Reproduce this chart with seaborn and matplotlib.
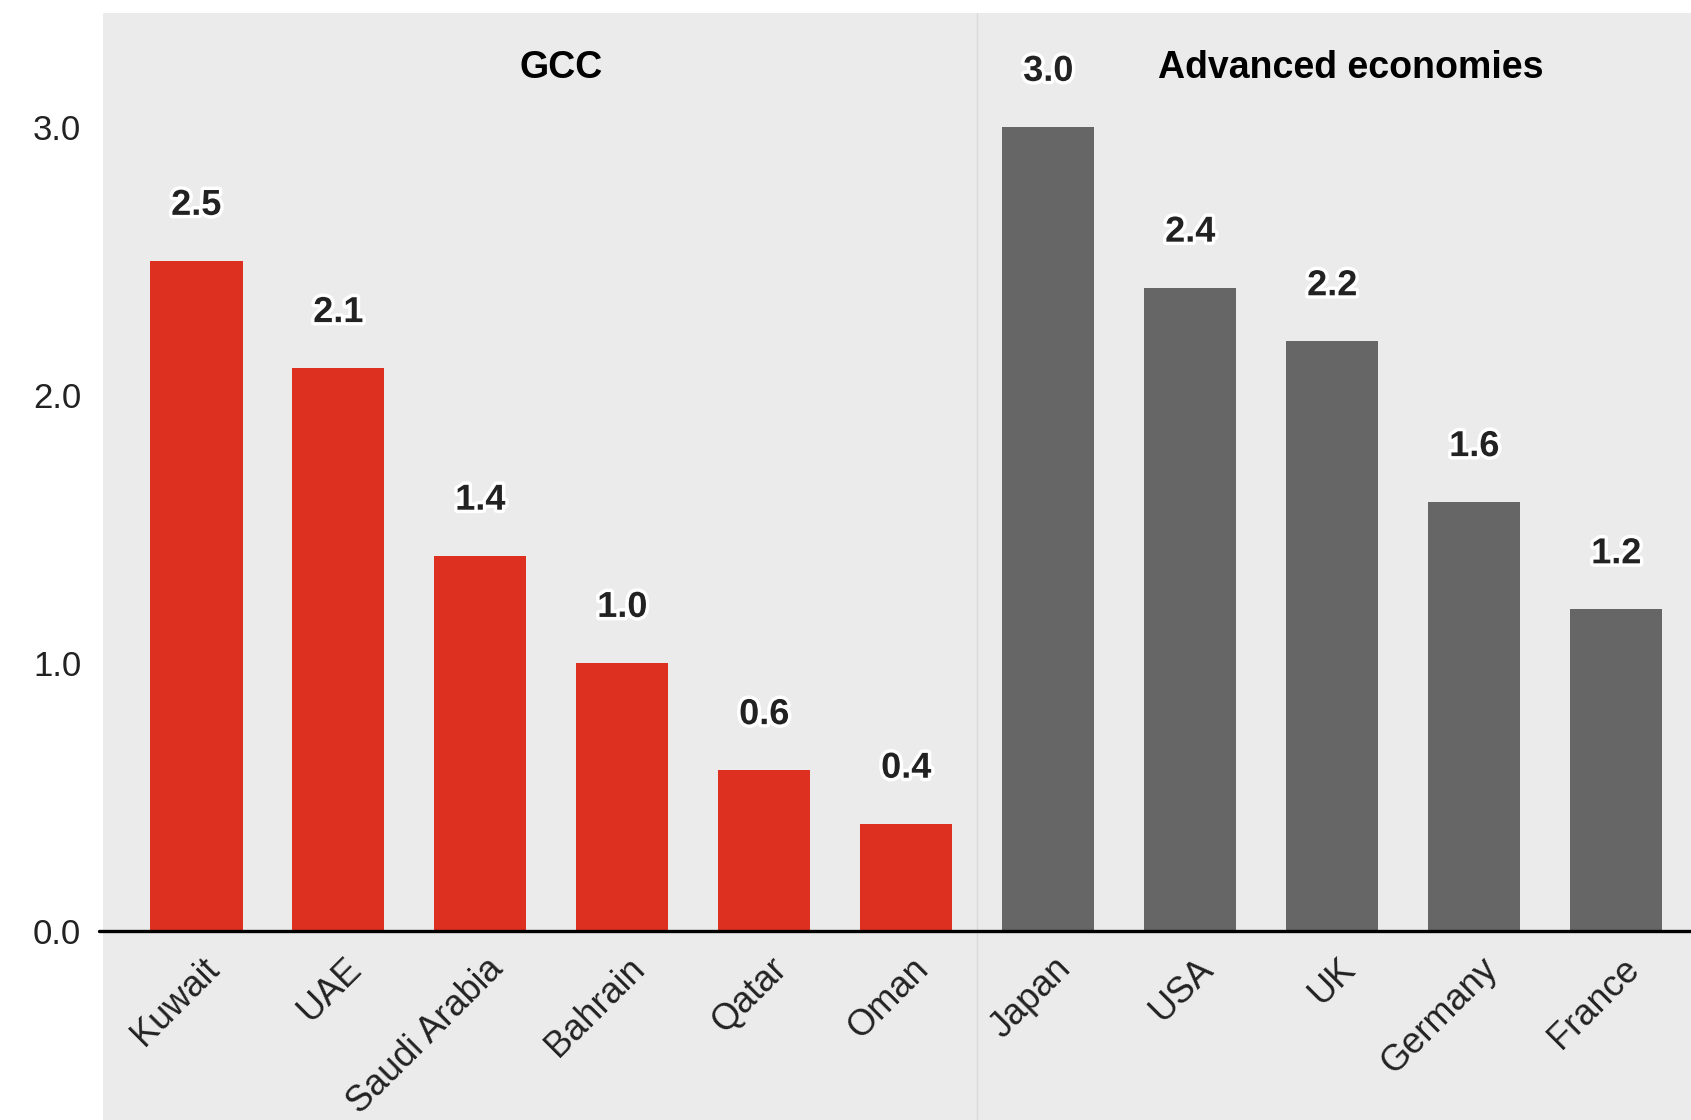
import numpy as np
import pandas as pd
import matplotlib
matplotlib.use('Agg')
import matplotlib.pyplot as plt
import matplotlib.patheffects as pe
from matplotlib.patches import Rectangle
from matplotlib.transforms import ScaledTranslation
import seaborn as sns

# data
countries = ['Kuwait', 'UAE', 'Saudi Arabia', 'Bahrain', 'Qatar', 'Oman',
             'Japan', 'USA', 'UK', 'Germany', 'France']
values = [2.5, 2.1, 1.4, 1.0, 0.6, 0.4, 3.0, 2.4, 2.2, 1.6, 1.2]
groups = ['GCC'] * 6 + ['Advanced economies'] * 5
group_names = ['GCC', 'Advanced economies']
y_ticks = [0.0, 1.0, 2.0, 3.0]

df = pd.DataFrame({'country': countries, 'value': values, 'group': groups})

sns.set_theme(style='white')
plt.rcParams['font.family'] = ['Liberation Sans', 'DejaVu Sans']

bg = '#ebebeb'
red = '#de3020'
grey = '#666666'

fig = plt.figure(figsize=(16.91, 11.20), dpi=100)
fig.patch.set_facecolor('white')
ax = fig.add_axes([0.0612, 0.16875, 0.9388, 0.81965])
ax.set_facecolor(bg)

# gray band under the axis where the country labels sit
fig.patches.append(Rectangle((0.0612, 0), 0.9388, 0.16875, transform=fig.transFigure,
                             facecolor=bg, edgecolor='none', zorder=-1))

sns.barplot(data=df, x='country', y='value', hue='group', dodge=False,
            palette={'GCC': red, 'Advanced economies': grey}, saturation=1,
            width=0.65, linewidth=0, legend=False, ax=ax, zorder=2)

ax.set_xlim(-0.654, 10.526)
ax.set_ylim(0, 3.425)
ax.set_xlabel('')
ax.set_ylabel('')
for s in ax.spines.values():
    s.set_visible(False)

# divider between the two groups, runs down into the label band
ax.axvline(5.5, ymin=-0.207, ymax=1, color='#d9d9d9', lw=1, clip_on=False, zorder=1)
ax.axhline(0, xmin=-0.003, xmax=1, color='black', lw=2.4, clip_on=False, zorder=3)

ax.set_yticks(y_ticks)
ax.set_yticklabels([f'{v:.1f}' for v in y_ticks])
ax.tick_params(axis='y', length=0, pad=16, labelsize=25, labelcolor='#222222')
ax.tick_params(axis='x', length=0, pad=0, labelsize=26, labelcolor='#222222')
plt.setp(ax.get_xticklabels(), rotation=45, ha='right', va='top', rotation_mode='anchor')
off = ScaledTranslation(0.05, -0.20, fig.dpi_scale_trans)
for lab in ax.get_xticklabels():
    lab.set_transform(lab.get_transform() + off)

# value labels
for i, v in enumerate(values):
    ax.annotate(f'{v:.1f}', (i, v), xytext=(0, 40), textcoords='offset points',
                ha='center', va='center', fontsize=26, fontweight='bold',
                color='#222222', zorder=4,
                path_effects=[pe.withStroke(linewidth=5, foreground='white')])

# group headings
for name, xpos in zip(group_names, [2.57, 8.13]):
    ax.text(xpos, 3.22, name, ha='center', va='center', fontsize=27,
            fontweight='bold', color='black')

fig.savefig('out.png', dpi=100)
